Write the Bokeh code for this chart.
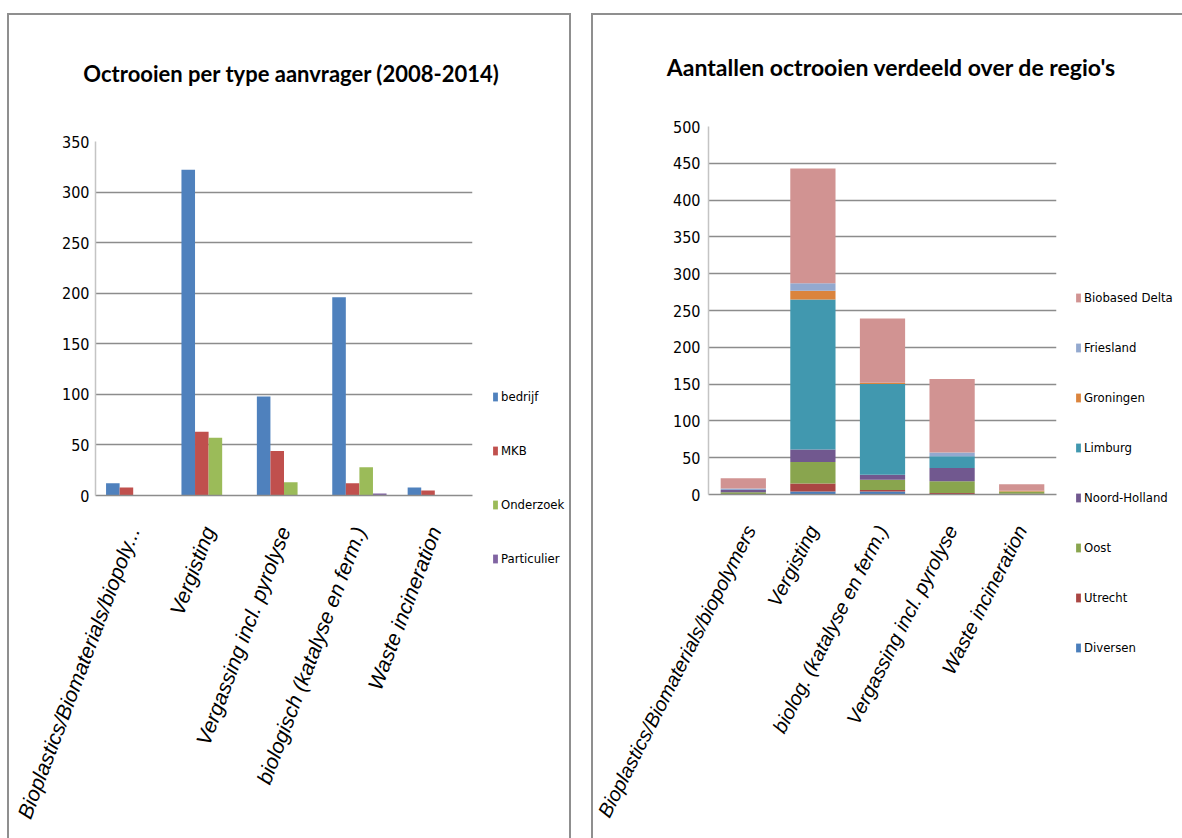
from bokeh.plotting import figure
from bokeh.layouts import row, column
from bokeh.models import (FactorRange, Range1d, Legend, LegendItem,
                          SingleIntervalTicker)
from bokeh.core.properties import value
from bokeh.transform import dodge
from bokeh.embed import file_html
from bokeh.resources import INLINE

# ---- Octrooien per type aanvrager (2008-2014) ----
applicant_title = "Octrooien per type aanvrager (2008-2014)"
applicant_categories = [
    "Bioplastics/Biomaterials/biopoly...",
    "Vergisting",
    "Vergassing incl. pyrolyse",
    "biologisch (katalyse en ferm.)",
    "Waste incineration",
]
applicant_types = ["bedrijf", "MKB", "Onderzoek", "Particulier"]
bedrijf = [12, 322, 98, 196, 8]
mkb = [8, 63, 44, 12, 5]
onderzoek = [0, 57, 13, 28, 0]
particulier = [0, 0, 0, 2, 0]
applicant_colors = ["#4F81BD", "#C0504D", "#9BBB59", "#8064A2"]

# ---- Aantallen octrooien verdeeld over de regio's ----
region_title = "Aantallen octrooien verdeeld over de regio's"
region_categories = [
    "Bioplastics/Biomaterials/biopolymers",
    "Vergisting",
    "biolog. (katalyse en ferm.)",
    "Vergassing incl. pyrolyse",
    "Waste incineration",
]
regions = ["Diversen", "Utrecht", "Oost", "Noord-Holland", "Limburg",
           "Groningen", "Friesland", "Biobased Delta"]
diversen = [0, 4, 4, 0, 0]
utrecht = [0, 11, 2, 2, 1]
oost = [3, 29, 14, 16, 3]
noord_holland = [3, 17, 7, 18, 0]
limburg = [0, 204, 123, 16, 0]
groningen = [0, 12, 2, 0, 1]
friesland = [2, 10, 0, 5, 0]
biobased_delta = [14, 156, 87, 100, 9]
region_colors = ["#4A7EBB", "#AA4643", "#89A54E", "#71588F", "#4198AF",
                 "#DB843D", "#93A9CF", "#D19392"]

COND = "DejaVu Sans Condensed"
TITLE_FONT = "Lato"
LABEL_FONT = "Liberation Sans"
GRID = "#8c8c8c"
EDGE = "2px solid #8f8f8f"


def blank(width, height, edges):
    # an axis-less strip whose frame fills its whole canvas (pixel units)
    cw = width - 2 * len([e for e in edges if e in ("left", "right")])
    ch = height - 2 * len([e for e in edges if e in ("top", "bottom")])
    f = figure(width=width, height=height, x_range=Range1d(0, cw),
               y_range=Range1d(0, ch), output_backend="svg",
               toolbar_location=None, min_border=0,
               x_axis_location=None, y_axis_location=None)
    f.frame_align = False
    f.grid.visible = False
    f.outline_line_color = None
    f.styles = {"border-" + e: EDGE for e in edges}
    return f, cw, ch


def title_strip(text, width, height, cx, cy, size, edges):
    t, cw, ch = blank(width, height, edges)
    t.text(x=[cx], y=[ch - cy], text=[text], text_align="center",
           text_baseline="middle", text_font=value(TITLE_FONT),
           text_font_style="bold", text_font_size=size, text_color="#000000")
    return t


def legend_strip(names, colors, width, height, x, y, gap, edges):
    f, cw, ch = blank(width, height, edges)
    items = []
    for n, c in zip(names, colors):
        r = f.vbar(x=[0], top=[0], width=0, fill_color=c, line_color=None)
        items.append(LegendItem(label=n, renderers=[r]))
    f.add_layout(Legend(items=items, location=(x, y), glyph_width=6,
                        glyph_height=11, label_height=20, spacing=gap,
                        padding=0, margin=0, border_line_color=None,
                        background_fill_alpha=0, label_standoff=3,
                        label_text_font=COND, label_text_font_size="13px",
                        label_text_color="#000000"))
    return f


def style_axes(p, angle, label_size, standoff):
    p.frame_align = False
    p.xgrid.grid_line_color = None
    p.ygrid.grid_line_color = GRID
    p.ygrid.grid_line_width = 1.5
    p.outline_line_color = None
    p.yaxis.axis_line_color = "#c4c4c4"
    p.yaxis.axis_line_width = 1.5
    p.yaxis.major_tick_line_color = None
    p.yaxis.minor_tick_line_color = None
    p.yaxis.major_tick_out = 0
    p.yaxis.major_tick_in = 0
    p.yaxis.major_label_text_font = COND
    p.yaxis.major_label_text_font_size = "16px"
    p.yaxis.major_label_text_color = "#000000"
    p.yaxis.major_label_standoff = standoff
    p.xaxis.axis_line_color = GRID
    p.xaxis.axis_line_width = 1.5
    p.xaxis.major_tick_line_color = None
    p.xaxis.minor_tick_line_color = None
    p.xaxis.major_label_orientation = angle
    p.xaxis.major_label_text_font = LABEL_FONT
    p.xaxis.major_label_text_font_style = "italic"
    p.xaxis.major_label_text_font_size = label_size
    p.xaxis.major_label_text_color = "#000000"
    p.xaxis.major_label_standoff = 26


# Left chart: grouped bars per applicant type
src1 = dict(cat=applicant_categories, bedrijf=bedrijf, MKB=mkb,
            Onderzoek=onderzoek, Particulier=particulier)
p1 = figure(x_range=FactorRange(*applicant_categories), y_range=Range1d(0, 350),
            width=473, height=718, output_backend="svg", toolbar_location=None,
            min_border_left=86, min_border_right=10, min_border_top=21,
            min_border_bottom=343)
p1.yaxis.ticker = SingleIntervalTicker(interval=50, num_minor_ticks=0)
style_axes(p1, 1.21, "21px", 6)
p1.styles = {"border-left": EDGE}

bar_w = 0.18
offsets = [-0.27, -0.09, 0.09, 0.27]
for name, off, col in zip(applicant_types, offsets, applicant_colors):
    p1.vbar(x=dodge("cat", off, range=p1.x_range), top=name, width=bar_w,
            source=src1, fill_color=col, line_color=None)

leg1 = legend_strip(applicant_types, applicant_colors, 91, 718, 12, 270, 34,
                    ["right"])
t1 = title_strip(applicant_title, 564, 107, 280, 57, "22px",
                 ["top", "left", "right"])

# Right chart: regions stacked per technology
src2 = dict(cat=region_categories, Diversen=diversen, Utrecht=utrecht, Oost=oost,
            **{"Noord-Holland": noord_holland}, Limburg=limburg,
            Groningen=groningen, Friesland=friesland,
            **{"Biobased Delta": biobased_delta})
p2 = figure(x_range=FactorRange(*region_categories), y_range=Range1d(0, 500),
            width=473, height=728, output_backend="svg", toolbar_location=None,
            min_border_left=115, min_border_right=10, min_border_top=16,
            min_border_bottom=344)
p2.yaxis.ticker = SingleIntervalTicker(interval=50, num_minor_ticks=0)
style_axes(p2, 1.10, "20px", 8)
p2.styles = {"border-left": EDGE}

p2.vbar_stack(regions, x="cat", width=0.65, source=src2,
              color=region_colors, line_color=None)

leg2 = legend_strip(regions[::-1], region_colors[::-1], 118, 728, 11, 181, 30, [])
t2 = title_strip(region_title, 591, 97, 297, 50, "23px", ["top", "left"])

left = column(t1, row(p1, leg1, spacing=0), margin=(13, 0, 0, 7), spacing=0)
right = column(t2, row(p2, leg2, spacing=0), margin=(13, 0, 0, 20), spacing=0)
layout = row(left, right, spacing=0)
open("out.html", "w").write(file_html(layout, INLINE))
